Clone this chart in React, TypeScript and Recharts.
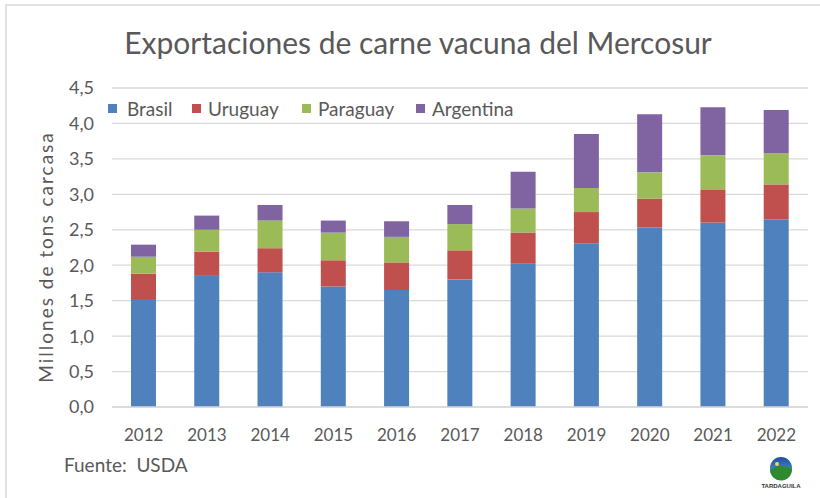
import React from 'react';
import { BarChart, Bar, XAxis, YAxis, CartesianGrid } from 'recharts';

const years = ['2012', '2013', '2014', '2015', '2016', '2017', '2018', '2019', '2020', '2021', '2022'];
const brasil = [1.51, 1.85, 1.9, 1.7, 1.65, 1.8, 2.02, 2.31, 2.53, 2.6, 2.65];
const uruguay = [0.37, 0.34, 0.34, 0.37, 0.39, 0.41, 0.44, 0.44, 0.41, 0.47, 0.49];
const paraguay = [0.24, 0.31, 0.39, 0.39, 0.36, 0.37, 0.34, 0.34, 0.37, 0.48, 0.44];
const argentina = [0.17, 0.2, 0.22, 0.17, 0.22, 0.27, 0.52, 0.76, 0.82, 0.68, 0.61];
const yTicks = [0, 0.5, 1, 1.5, 2, 2.5, 3, 3.5, 4, 4.5];

const seriesNames = ['Brasil', 'Uruguay', 'Paraguay', 'Argentina'];
const seriesColors = ['#4f81bd', '#c0504d', '#9bbb59', '#8064a2'];

const data = years.map((y, i) => ({
  year: y,
  Brasil: brasil[i],
  Uruguay: uruguay[i],
  Paraguay: paraguay[i],
  Argentina: argentina[i],
}));

const FONT = 'Lato, "Open Sans", sans-serif';
const TXT = '#595959';
const legendLeft = [108, 192, 302, 416];

const fmt = (v: number) => v.toFixed(1).replace('.', ',');

export default function App() {
  return (
    <div style={{ position: 'absolute', left: 0, top: 0, width: 820, height: 498, background: '#fff', overflow: 'hidden' }}>
      <div style={{ position: 'absolute', left: 5, top: 4, width: 830, height: 510, borderLeft: '2px solid #e2e2e2', borderTop: '2px solid #e2e2e2' }} />
      <div
        style={{
          position: 'absolute',
          left: 0,
          width: 836,
          top: 24,
          textAlign: 'center',
          fontFamily: FONT,
          fontSize: 30,
          color: TXT,
          whiteSpace: 'nowrap',
        }}
      >
        Exportaciones de carne vacuna del Mercosur
      </div>
      <div
        style={{
          position: 'absolute',
          left: 45,
          top: 257,
          transform: 'translate(-50%, -50%) rotate(-90deg)',
          fontFamily: FONT,
          fontSize: 19,
          letterSpacing: 2,
          color: TXT,
          whiteSpace: 'nowrap',
        }}
      >
        Millones de tons carcasa
      </div>
      <div style={{ position: 'absolute', left: 64, top: 453, fontFamily: FONT, fontSize: 19, color: TXT, whiteSpace: 'pre' }}>
        {'Fuente:  USDA'}
      </div>
      <svg style={{ position: 'absolute', left: 760, top: 455 }} width={44} height={40}>
        <defs>
          <linearGradient id="sky" x1="0" y1="0" x2="0" y2="1">
            <stop offset="0" stopColor="#1c4fa0" />
            <stop offset="1" stopColor="#5fa8e0" />
          </linearGradient>
        </defs>
        <circle cx={21} cy={13} r={11} fill="url(#sky)" />
        <path d="M10,15 Q21,7 32,14 A11,11 0 0 1 10,15 Z" fill="#2f8a2f" />
        <circle cx={17} cy={9} r={2} fill="#f2d64b" />
        <text x={21} y={33} textAnchor="middle" fontSize={6} fontWeight="bold" fill="#333" fontFamily="sans-serif">
          TARDAGUILA
        </text>
      </svg>
      <div style={{ position: 'absolute', left: 0, top: 0 }}>
        <BarChart width={820} height={498} data={data} margin={{ top: 88, right: 12, bottom: 61, left: 52 }} barCategoryGap="30%">
          <CartesianGrid vertical={false} stroke="#d9d9d9" strokeWidth={1.3} />
          <XAxis
            dataKey="year"
            tickLine={false}
            axisLine={{ stroke: '#d9d9d9', strokeWidth: 1.3 }}
            tickSize={0}
            tickMargin={22}
            height={30}
            tick={{ fill: TXT, fontSize: 17, fontFamily: FONT }}
          />
          <YAxis
            domain={[0, 4.5]}
            ticks={yTicks}
            tickFormatter={fmt}
            axisLine={false}
            tickLine={false}
            tickSize={0}
            tickMargin={18}
            width={60}
            interval={0}
            tick={{ fill: TXT, fontSize: 18, fontFamily: FONT }}
          />
          {seriesNames.map((n, i) => (
            <Bar key={n} dataKey={n} stackId="a" fill={seriesColors[i]} isAnimationActive={false} />
          ))}
        </BarChart>
      </div>
      {seriesNames.map((n, i) => (
        <div
          key={n}
          style={{
            position: 'absolute',
            left: legendLeft[i],
            top: 97,
            height: 22,
            display: 'flex',
            alignItems: 'center',
            fontFamily: FONT,
            fontSize: 19,
            color: TXT,
            whiteSpace: 'nowrap',
            background: '#fff',
          }}
        >
          <span style={{ display: 'inline-block', width: 9, height: 9, background: seriesColors[i], marginRight: i === 0 ? 10 : 7 }} />
          {n}
        </div>
      ))}
    </div>
  );
}
